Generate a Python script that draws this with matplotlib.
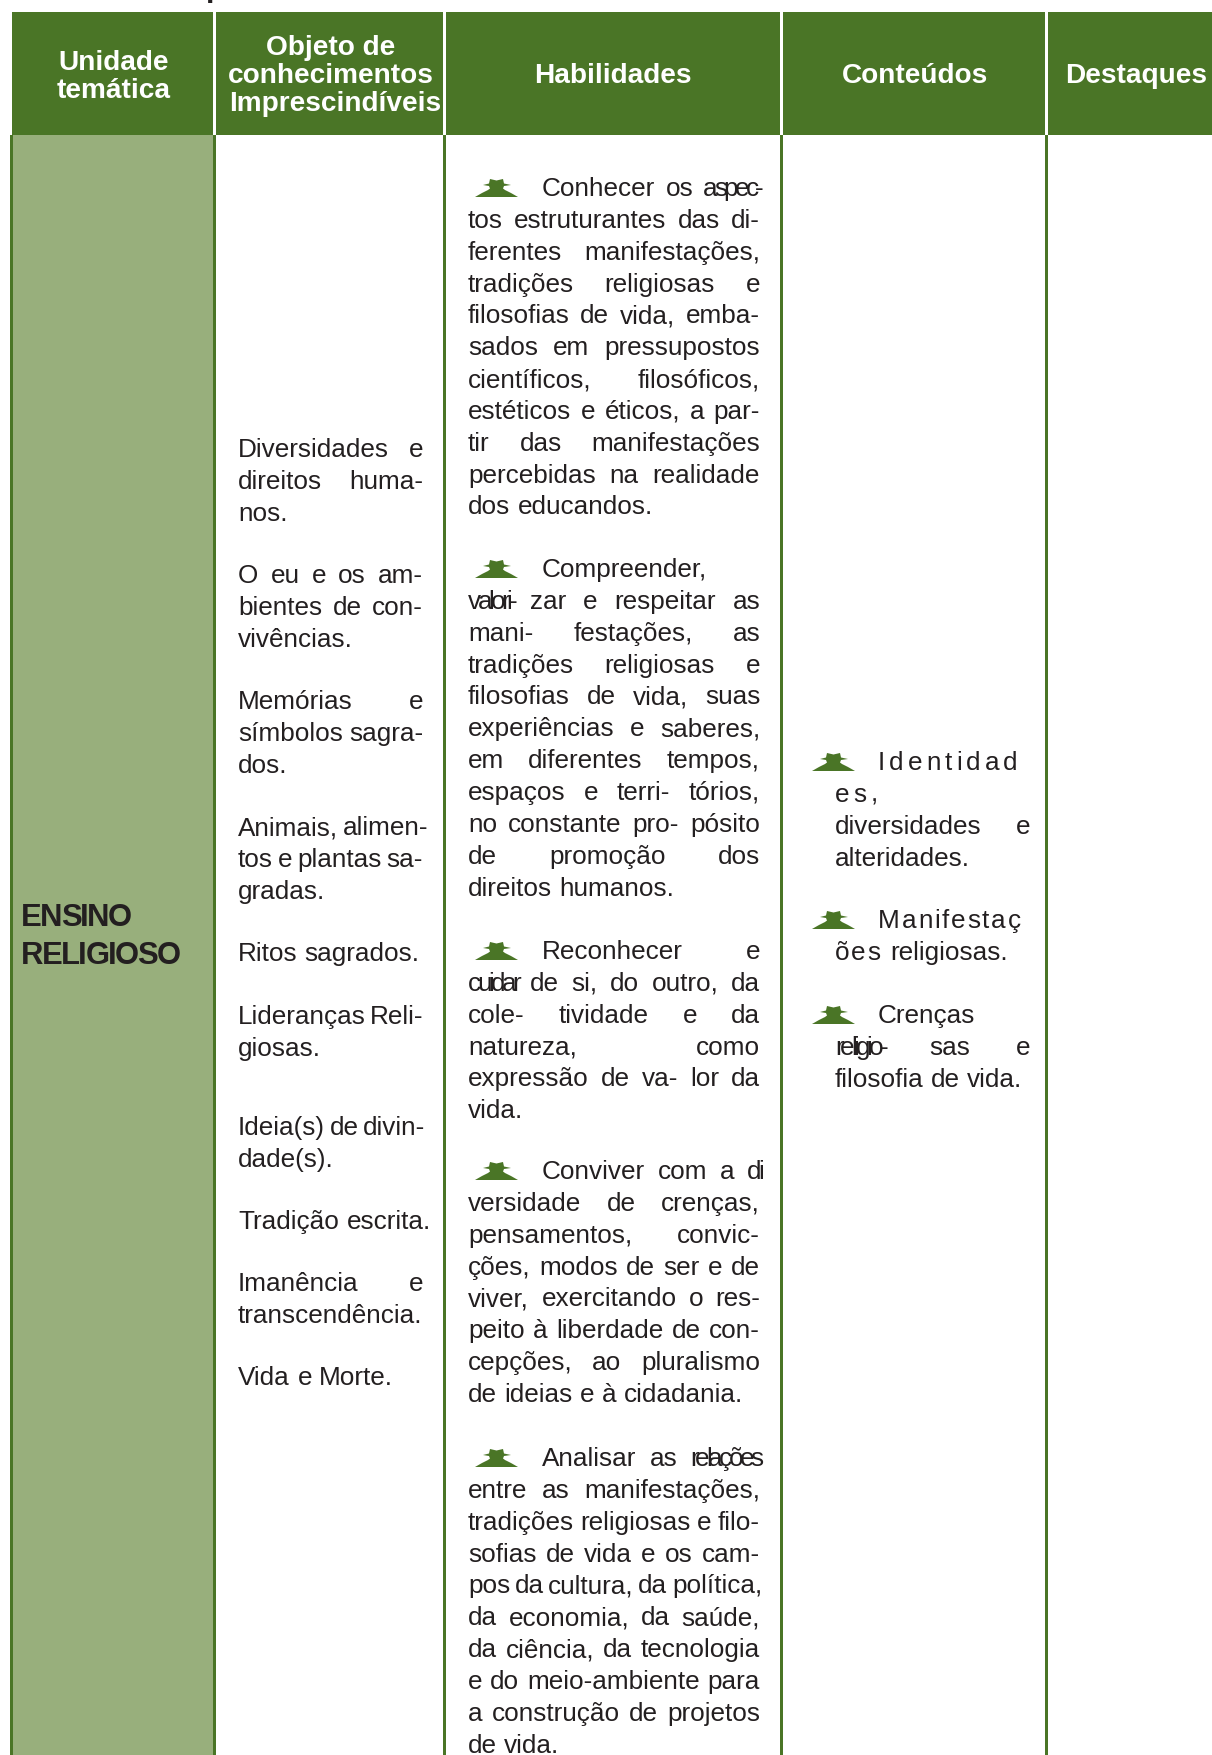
import matplotlib
matplotlib.use("Agg")
import matplotlib.pyplot as plt
from matplotlib import font_manager as fm
from matplotlib.ft2font import LoadFlags
from matplotlib.patches import Rectangle, Polygon

# ---- content ----
HEADERS = [["Unidade", "temática"], ["Objeto de", "conhecimentos", "Imprescindíveis"],
           ["Habilidades"], ["Conteúdos"], ["Destaques"]]
UNIT = ["ENSINO", "RELIGIOSO"]
OBJETOS = [
    ["Diversidades e", "direitos huma-", "nos."],
    ["O eu e os am-", "bientes de con-", "vivências."],
    ["Memórias e", "símbolos sagra-", "dos."],
    ["Animais, alimen-", "tos e plantas sa-", "gradas."],
    ["Ritos sagrados."],
    ["Lideranças Reli-", "giosas."],
    ["Ideia(s) de divin-", "dade(s)."],
    ["Tradição escrita."],
    ["Imanência e", "transcendência."],
    ["Vida e Morte."],
]
HABILIDADES = [
    ["Conhecer os {aspec-}", "tos estruturantes das di-", "ferentes manifestações,",
     "tradições religiosas e", "filosofias de vida, emba-", "sados em pressupostos",
     "científicos, filosóficos,", "estéticos e éticos, a par-", "tir das manifestações",
     "percebidas na realidade", "dos educandos."],
    ["Compreender,", "{valori-} zar e respeitar as", "mani- festações, as",
     "tradições religiosas e", "filosofias de vida, suas", "experiências e saberes,",
     "em diferentes tempos,", "espaços e terri- tórios,", "no constante pro- pósito",
     "de promoção dos", "direitos humanos."],
    ["Reconhecer e", "{cuidar} de si, do outro, da", "cole- tividade e da",
     "natureza, como", "expressão de va- lor da", "vida."],
    ["Conviver com a {di}", "versidade de crenças,", "pensamentos, convic-",
     "ções, modos de ser e de", "viver, exercitando o res-", "peito à liberdade de con-",
     "cepções, ao pluralismo", "de ideias e à cidadania."],
    ["Analisar as {relações}", "entre as manifestações,", "tradições religiosas e filo-",
     "sofias de vida e os cam-", "pos da cultura, da política,", "da economia, da saúde,",
     "da ciência, da tecnologia", "e do meio-ambiente para", "a construção de projetos",
     "de vida."],
]
CONTEUDOS = [
    ["[Identidad]", "[es,]", "diversidades e", "alteridades."],
    ["<Manifestaç>", "<ões> religiosas."],
    ["Crenças", "{religio-} sas e", "filosofia de vida."],
]
# lines that keep natural spacing although they are not a paragraph end
HAB_LOOSE = {"Compreender,"}
CON_LOOSE = {"[Identidad]", "[es,]", "<Manifestaç>", "Crenças"}

# ---- layout (pixels) ----
W, H = 1212, 1755
GREEN, LIGHT, INK = "#4a7526", "#98af7c", "#231f20"
FONT = "Liberation Sans"
BODY = 26.1
HEAD = 28.0
UNITPX = 31.0
PITCH = 31.85
HEAD_PITCH = 28.0
HEAD_TOP, HEAD_BOT = 12, 135
OBJ_Y = [457, 583, 709, 835, 961, 1024, 1135, 1229, 1291, 1385]
HAB_Y = [196, 577, 959, 1179, 1466]
CON_Y = [770, 928, 1023]
OBJ_X = (238, 423)
HAB_X = (468, 760)
CON_X = (835, 1030)
HAB_IND, CON_IND = 542, 878
HAB_ICON, CON_ICON = 475, 812
HEAD_CX = [114, 331, 613, 915, 1136]
HEAD_Y = [70, 55, 83, 83, 83]
HEAD_DX = {"Imprescindíveis": 4}
TRACKS = {"{": -3.6, "[": 4.0, "<": 1.8}
MIN_GAP = 4.5

fig = plt.figure(figsize=(W / 100, H / 100), dpi=100, facecolor="white")
ax = fig.add_axes([0, 0, 1, 1])
ax.set_xlim(0, W)
ax.set_ylim(H, 0)
ax.axis("off")


def pt(px):
    return px * 72 / 100


def adv(ch, px, bold=False):
    f = fm.get_font(fm.findfont(fm.FontProperties(family=FONT, weight="bold" if bold else "normal")))
    f.set_size(pt(px), 100)
    g = f.load_char(ord(ch), flags=LoadFlags.NO_HINTING)
    return g.linearHoriAdvance / 65536


def tracked(word, x, y, px, track, bold=False, color=INK):
    for c in word:
        ax.text(x, y, c, fontsize=pt(px), family=FONT, color=color,
                weight="bold" if bold else "normal", va="baseline", ha="left")
        x += adv(c, px, bold) + track
    return x


def parse(tok):
    if tok[0] in TRACKS:
        return tok[1:-1], TRACKS[tok[0]]
    return tok, 0.0


def width(tok):
    w, t = parse(tok)
    return sum(adv(c, BODY) for c in w) + t * len(w)


def line(s, x0, x1, y, justify):
    toks = s.split()
    sp = adv(" ", BODY)
    if justify and len(toks) > 1:
        sp = max(MIN_GAP, (x1 - x0 - sum(width(t) for t in toks)) / (len(toks) - 1))
    x = x0
    for t in toks:
        w, tr = parse(t)
        if tr:
            tracked(w, x, y, BODY, tr)
        else:
            ax.text(x, y, w, fontsize=pt(BODY), family=FONT, color=INK, va="baseline", ha="left")
        x += width(t) + sp


def icon(x, y):
    shape = [(0, 0), (7, -4), (13, -7), (15, -8.5), (14, -11), (8, -12), (14, -13.5), (15, -18),
             (21.5, -16.5), (28, -18), (29, -13.5), (36, -12), (29, -11), (28, -8.5), (30, -7),
             (36, -4), (43, 0)]
    ax.add_patch(Polygon([(x + a, y + b) for a, b in shape], closed=True, fc=GREEN, ec="none"))


# clipped title above the table
ax.text(206, -3.5, "p", fontsize=pt(30), family=FONT, weight="bold", color=INK,
        va="baseline", ha="left", clip_on=True)

# header
ax.add_patch(Rectangle((12, HEAD_TOP), W - 12, HEAD_BOT - HEAD_TOP, fc=GREEN, ec="none"))
for x in (213, 443, 780, 1045):
    ax.add_patch(Rectangle((x, HEAD_TOP), 3, HEAD_BOT - HEAD_TOP, fc="white", ec="none"))
for cx, y0, rows in zip(HEAD_CX, HEAD_Y, HEADERS):
    for i, r in enumerate(rows):
        ax.text(cx + HEAD_DX.get(r, 0), y0 + i * HEAD_PITCH, r, fontsize=pt(HEAD), family=FONT,
                weight="bold", color="white", ha="center", va="baseline")

# body
ax.add_patch(Rectangle((13, HEAD_BOT), 200, H - HEAD_BOT, fc=LIGHT, ec="none"))
for x in (10, 213, 443, 780, 1045):
    ax.add_patch(Rectangle((x, HEAD_BOT), 3, H - HEAD_BOT, fc=GREEN, ec="none"))

for i, u in enumerate(UNIT):
    tracked(u, 21, 926 + i * 38, UNITPX, -1.55, bold=True)

for y0, para in zip(OBJ_Y, OBJETOS):
    for i, s in enumerate(para):
        line(s, OBJ_X[0], OBJ_X[1], y0 + i * PITCH, i < len(para) - 1)

for y0, para in zip(HAB_Y, HABILIDADES):
    icon(HAB_ICON, y0 + 1)
    for i, s in enumerate(para):
        line(s, HAB_IND if i == 0 else HAB_X[0], HAB_X[1], y0 + i * PITCH,
             i < len(para) - 1 and s not in HAB_LOOSE)

for y0, para in zip(CON_Y, CONTEUDOS):
    icon(CON_ICON, y0 + 1)
    for i, s in enumerate(para):
        line(s, CON_IND if i == 0 else CON_X[0], CON_X[1], y0 + i * PITCH,
             i < len(para) - 1 and s not in CON_LOOSE)

fig.savefig("out.png", dpi=100, facecolor="white")
